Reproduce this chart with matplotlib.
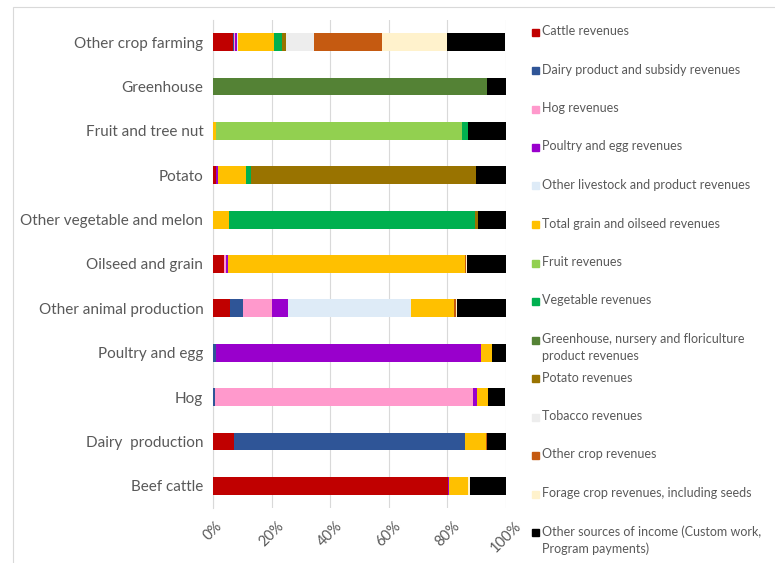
import numpy as np
import matplotlib
matplotlib.use("Agg")
from matplotlib import pyplot as plt
from matplotlib.patches import Rectangle

# categories, top to bottom
categorias = ['Other crop farming', 'Greenhouse', 'Fruit and tree nut', 'Potato',
              'Other vegetable and melon', 'Oilseed and grain', 'Other animal production',
              'Poultry and egg', 'Hog', 'Dairy  production', 'Beef cattle']

series = ['Cattle revenues', 'Dairy product and subsidy revenues', 'Hog revenues',
          'Poultry and egg revenues', 'Other livestock and product revenues',
          'Total grain and oilseed revenues', 'Fruit revenues', 'Vegetable revenues',
          'Greenhouse, nursery and floriculture\nproduct revenues', 'Potato revenues',
          'Tobacco revenues', 'Other crop revenues',
          'Forage crop revenues, including seeds',
          'Other sources of income (Custom work,\nProgram payments)']

cores = ['#C00000', '#2F5597', '#FF99CC', '#9900CC', '#DEEBF7', '#FFC000', '#92D050',
         '#00B050', '#548235', '#997300', '#EDEDED', '#C55A11', '#FFF2CC', '#000000']

# percentuais (%) por serie, na ordem das categorias
cattle      = [6.8, 0, 0, 1.0, 0, 3.8, 5.7, 0, 0, 7.2, 80.3]
dairy       = [0.3, 0, 0, 0, 0, 0, 4.6, 1.0, 0.6, 78.8, 0]
hog         = [0.4, 0, 0, 0, 0, 0.5, 9.8, 0, 88.3, 0, 0]
poultry     = [0.8, 0, 0, 0.7, 0, 0.8, 5.4, 90.5, 1.2, 0, 0.3]
livestock   = [0.3, 0, 0, 0, 0, 0, 42.1, 0, 0, 0, 0]
grain       = [12.2, 0, 1.1, 9.7, 5.5, 80.8, 14.5, 3.8, 3.8, 7.1, 6.3]
fruit       = [0, 0, 84.0, 0, 0, 0, 0, 0, 0, 0, 0]
vegetable   = [2.8, 0, 2.0, 1.7, 84.0, 0, 0, 0, 0, 0, 0]
greenhouse  = [0, 93.6, 0, 0, 0, 0, 0, 0, 0, 0, 0]
potato      = [1.4, 0, 0, 76.5, 0.8, 0, 0.3, 0, 0, 0, 0]
tobacco     = [9.5, 0, 0, 0, 0, 0, 0, 0, 0, 0, 0]
other_crop  = [23.3, 0, 0, 0, 0, 0.3, 0.5, 0, 0, 0.5, 0]
forage      = [21.9, 0, 0, 0, 0, 0.4, 0.4, 0, 0, 0, 0.8]
other_inc   = [20.0, 6.4, 12.9, 10.4, 9.7, 13.4, 16.9, 4.7, 5.9, 6.4, 12.3]

valores = [cattle, dairy, hog, poultry, livestock, grain, fruit, vegetable,
           greenhouse, potato, tobacco, other_crop, forage, other_inc]

xticks = [0, 20, 40, 60, 80, 100]

plt.rcParams['font.family'] = ['Lato', 'DejaVu Sans']
cinza = '#595959'

fig = plt.figure(figsize=(7.75, 5.63), dpi=100)
ax = fig.add_axes([213/775, 1 - 508/563, (506-213)/775, (508-20)/563])

y = np.arange(len(categorias))
esquerda = np.zeros(len(categorias))
for nome, cor, v in zip(series, cores, valores):
    v = np.array(v, dtype=float)
    ax.barh(y, v, left=esquerda, height=0.4, color=cor, label=nome, zorder=3)
    esquerda += v

ax.set_xlim(0, 100)
ax.set_ylim(len(categorias) - 0.5, -0.5)
ax.set_yticks(y)
ax.set_yticklabels(categorias, fontsize=11, color=cinza)
ax.set_xticks(xticks)
ax.set_xticklabels([f'{t}%' for t in xticks], rotation=45, fontsize=10.5, color=cinza)
ax.tick_params(length=0, pad=7)
ax.tick_params(axis='x', pad=8)
ax.grid(axis='x', color='#D9D9D9', linewidth=0.8, zorder=0)
for s in ['top', 'right', 'bottom']:
    ax.spines[s].set_visible(False)
ax.spines['left'].set_color('#D9D9D9')

# Legenda manual
ly0 = 32
dy = 38.5
for i, (nome, cor) in enumerate(zip(series, cores)):
    yy = ly0 + i * dy
    fig.patches.append(Rectangle((532/775, 1 - (yy + 3.5)/563), 7/775, 7/563,
                                 transform=fig.transFigure, color=cor, figure=fig))
    fig.text(542/775, 1 - (yy - 7)/563, nome, fontsize=9, color=cinza,
             va='top', ha='left', linespacing=1.45)

# borda do grafico
fig.patches.append(Rectangle((13/775, -0.05), 1.0, 1 - 7/563 + 0.05,
                             transform=fig.transFigure, fill=False,
                             edgecolor='#D9D9D9', linewidth=0.8, figure=fig))

fig.savefig('out.png', dpi=100)
